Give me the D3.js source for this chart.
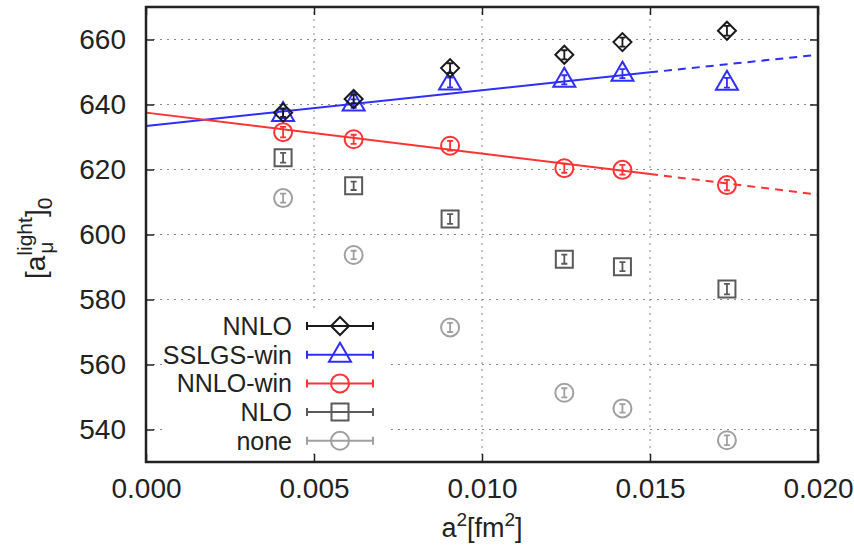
<!DOCTYPE html>
<html>
<head>
<meta charset="utf-8">
<script src="https://cdn.jsdelivr.net/npm/d3@7"></script>
<style>
  body { margin: 0; background: #fff; }
  text { font-family: "Liberation Sans", Arial, Helvetica, sans-serif; fill: #222; }
</style>
</head>
<body>
<script>
// values
var a2 = [0.00408, 0.00618, 0.00905, 0.01245, 0.01418, 0.01729];

var nnlo     = [637.5, 641.7, 651.2, 655.3, 659.2, 662.7];
var nnloErr  = [1.3, 1.3, 1.5, 1.4, 1.4, 1.5];
var sslgsWin = [637.1, 640.3, 646.8, 647.6, 649.5, 646.7];
var sslgsErr = [1.3, 1.3, 1.5, 1.4, 1.4, 1.5];
var nnloWin  = [631.5, 629.3, 627.3, 620.4, 619.9, 615.2];
var nnloWinErr = [1.6, 1.4, 1.5, 1.4, 1.5, 1.6];
var nlo      = [623.6, 615.0, 604.8, 592.4, 590.1, 583.2];
var nloErr   = [1.5, 1.3, 1.5, 1.4, 1.4, 1.6];
var none     = [611.2, 593.7, 571.4, 551.3, 546.5, 536.7];
var noneErr  = [1.4, 1.3, 1.4, 1.4, 1.3, 1.5];

// fit lines (solid up to 0.015, dashed beyond)
var fitX     = [0, 0.015, 0.02];
var blueFitY = [633.4, 649.9, 655.3];
var redFitY  = [637.5, 618.6, 612.3];

var xTicks = [0, 0.005, 0.010, 0.015, 0.020];
var yTicks = [540, 560, 580, 600, 620, 640, 660];

var W = 854, H = 552;
var margin = {left: 146, right: 36, top: 7, bottom: 90};

var svg = d3.select('body').append('svg')
  .attr('width', W).attr('height', H);

var x = d3.scaleLinear().domain([0, 0.02]).range([margin.left, W - margin.right]);
var y = d3.scaleLinear().domain([530, 670]).range([H - margin.bottom, margin.top]);

// grid
svg.append('g').selectAll('line').data(xTicks.slice(1, -1)).enter().append('line')
  .attr('x1', function(d){return x(d);}).attr('x2', function(d){return x(d);})
  .attr('y1', y(530)).attr('y2', y(670))
  .attr('stroke', '#888').attr('stroke-width', 1).attr('stroke-dasharray', '2,5');
svg.append('g').selectAll('line').data(yTicks).enter().append('line')
  .attr('y1', function(d){return y(d);}).attr('y2', function(d){return y(d);})
  .attr('x1', x(0)).attr('x2', x(0.02))
  .attr('stroke', '#888').attr('stroke-width', 1).attr('stroke-dasharray', '2,5');

// legend background hides the grid
svg.append('rect').attr('x', 166).attr('y', 312).attr('width', 221).attr('height', 138)
  .attr('fill', '#fff');

// axes with inward ticks
var tickLen = 8;
svg.append('g').attr('transform', 'translate(0,' + y(530) + ')')
  .call(d3.axisBottom(x).tickValues(xTicks).tickFormat(d3.format('.3f')).tickSizeInner(-tickLen).tickSizeOuter(0).tickPadding(16))
  .call(function(g){ g.select('.domain').remove(); g.selectAll('text').attr('font-size', 28).attr('fill', '#222'); g.selectAll('line').attr('stroke', '#222').attr('stroke-width', 1.5); });
svg.append('g').attr('transform', 'translate(0,' + y(670) + ')')
  .call(d3.axisTop(x).tickValues(xTicks).tickFormat('').tickSizeInner(-tickLen).tickSizeOuter(0))
  .call(function(g){ g.select('.domain').remove(); g.selectAll('line').attr('stroke', '#222').attr('stroke-width', 1.5); });
svg.append('g').attr('transform', 'translate(' + x(0) + ',0)')
  .call(d3.axisLeft(y).tickValues(yTicks).tickSizeInner(-tickLen).tickSizeOuter(0).tickPadding(20))
  .call(function(g){ g.select('.domain').remove(); g.selectAll('text').attr('font-size', 28).attr('fill', '#222'); g.selectAll('line').attr('stroke', '#222').attr('stroke-width', 1.5); });
svg.append('g').attr('transform', 'translate(' + x(0.02) + ',0)')
  .call(d3.axisRight(y).tickValues(yTicks).tickFormat('').tickSizeInner(-tickLen).tickSizeOuter(0))
  .call(function(g){ g.select('.domain').remove(); g.selectAll('line').attr('stroke', '#222').attr('stroke-width', 1.5); });

// fit lines
var line = d3.line().x(function(d){return x(d[0]);}).y(function(d){return y(d[1]);});
var fits = [{ys: blueFitY, color: '#2e2eff'}, {ys: redFitY, color: '#ff3333'}];
fits.forEach(function(f) {
  svg.append('path').datum([[fitX[0], f.ys[0]], [fitX[1], f.ys[1]]])
    .attr('d', line).attr('fill', 'none').attr('stroke', f.color).attr('stroke-width', 2);
  svg.append('path').datum([[fitX[1], f.ys[1]], [fitX[2], f.ys[2]]])
    .attr('d', line).attr('fill', 'none').attr('stroke', f.color).attr('stroke-width', 2)
    .attr('stroke-dasharray', '8,6');
});

// marker shapes, centred on 0,0
var shapes = {
  diamond: 'M0,-9L9,0L0,9L-9,0Z',
  triangle: 'M0,-12L11,7L-11,7Z',
  circle: 'M9,0A9,9 0 1,1 -9,0A9,9 0 1,1 9,0Z',
  square: 'M-8.5,-8.5H8.5V8.5H-8.5Z'
};

var series = [
  {name: 'NNLO', vals: nnlo, errs: nnloErr, color: '#1a1a1a', shape: 'diamond'},
  {name: 'SSLGS-win', vals: sslgsWin, errs: sslgsErr, color: '#2e2eff', shape: 'triangle'},
  {name: 'NNLO-win', vals: nnloWin, errs: nnloWinErr, color: '#ff3333', shape: 'circle'},
  {name: 'NLO', vals: nlo, errs: nloErr, color: '#5a5a5a', shape: 'square'},
  {name: 'none', vals: none, errs: noneErr, color: '#a0a0a0', shape: 'circle'}
];

// draw last series first so the black diamonds end up on top
series.slice().reverse().forEach(function(s) {
  var pts = a2.map(function(d, i){ return {x: d, v: s.vals[i], e: s.errs[i]}; });
  var g = svg.append('g').attr('stroke', s.color).attr('fill', 'none').attr('stroke-width', 2);
  var p = g.selectAll('g').data(pts).enter().append('g')
    .attr('transform', function(d){ return 'translate(' + x(d.x) + ',' + y(d.v) + ')'; });
  p.append('path').attr('d', shapes[s.shape]);
  // error bars
  p.append('path').attr('stroke-width', 1.8)
    .attr('d', function(d){
      var dy = y(d.v - d.e) - y(d.v);
      return 'M0,' + (-dy) + 'V' + dy + 'M-3,' + (-dy) + 'H3M-3,' + dy + 'H3';
    });
});

// legend
var legX = 292, legY0 = 326, legStep = 28.7;
var leg = svg.append('g').selectAll('g').data(series).enter().append('g')
  .attr('transform', function(d, i){ return 'translate(0,' + (legY0 + i * legStep) + ')'; });
leg.append('text').attr('x', legX).attr('y', 9).attr('text-anchor', 'end')
  .attr('font-size', 25).text(function(d){ return d.name; });
leg.append('path').attr('fill', 'none').attr('stroke-width', 2)
  .attr('stroke', function(d){ return d.color; })
  .attr('d', 'M307,0H373M307,-4V4M373,-4V4');
leg.append('path').attr('fill', 'none').attr('stroke-width', 2)
  .attr('stroke', function(d){ return d.color; })
  .attr('transform', 'translate(340,0)')
  .attr('d', function(d){ return shapes[d.shape]; });

// frame
svg.append('rect').attr('x', x(0)).attr('y', y(670))
  .attr('width', x(0.02) - x(0)).attr('height', y(530) - y(670))
  .attr('fill', 'none').attr('stroke', '#222').attr('stroke-width', 2.5);

// x axis title
var xt = svg.append('text').attr('x', 482).attr('y', 537).attr('text-anchor', 'middle')
  .attr('font-size', 27);
xt.append('tspan').text('a');
xt.append('tspan').attr('font-size', 19).attr('dy', -11).text('2');
xt.append('tspan').attr('dy', 11).text('[fm');
xt.append('tspan').attr('font-size', 19).attr('dy', -11).text('2');
xt.append('tspan').attr('dy', 11).text(']');

// y axis title, rotated
var yg = svg.append('g').attr('transform', 'translate(45,236) rotate(-90)');
var yt = yg.append('text').attr('x', -43).attr('y', 0).attr('font-size', 28);
yt.append('tspan').text('[a');
var sup = yt.append('tspan').attr('font-size', 21).attr('dy', -13).text('light');
yt.append('tspan').attr('dy', 13).text(']');
yt.append('tspan').attr('font-size', 21).attr('dy', 7).text('0');
var supStart = sup.node().getStartPositionOfChar(0).x;
yg.append('text').attr('x', supStart + 2).attr('y', 8).attr('font-size', 21).text('μ');
</script>
</body>
</html>
